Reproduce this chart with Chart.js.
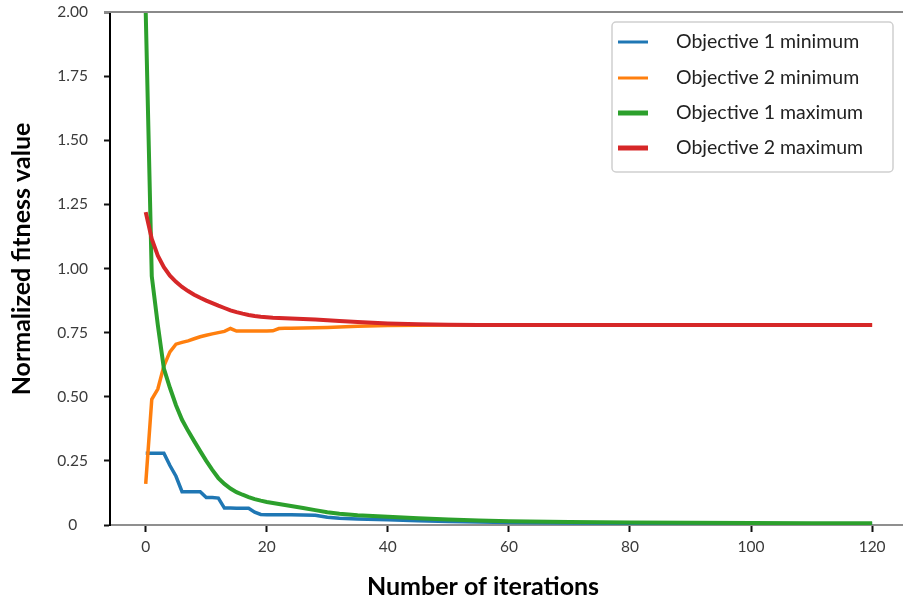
<!DOCTYPE html>
<html>
<head>
<meta charset="utf-8">
<script src="https://cdn.jsdelivr.net/npm/chart.js@4.4.0/dist/chart.umd.min.js"></script>
<style>
html,body{margin:0;padding:0;background:#fff;}
#wrap{width:903px;height:602px;position:relative;}
</style>
</head>
<body>
<div id="wrap"><canvas id="c" width="903" height="602"></canvas></div>
<script>
// ---- data ----
const iterations = [0,1,2,3,4,5,6,7,8,9,10,11,12,13,14,15,16,17,18,19,20,21,22,23,24,26,28,30,32,35,40,45,50,55,60,70,80,90,100,110,120];

const obj1Min = [0.28,0.28,0.28,0.28,0.232,0.19,0.13,0.13,0.13,0.13,0.107,0.107,0.105,0.066,0.066,0.065,0.065,0.065,0.05,0.041,0.04,0.04,0.04,0.04,0.04,0.039,0.038,0.03,0.026,0.023,0.02,0.017,0.014,0.012,0.01,0.008,0.007,0.006,0.005,0.005,0.005];

const obj2Min = [0.16,0.49,0.53,0.62,0.675,0.705,0.712,0.718,0.726,0.734,0.74,0.745,0.75,0.755,0.766,0.756,0.756,0.756,0.756,0.756,0.756,0.757,0.766,0.767,0.767,0.768,0.769,0.77,0.772,0.775,0.778,0.779,0.78,0.78,0.78,0.78,0.78,0.78,0.78,0.78,0.78];

const obj1Max = [2.0,0.97,0.78,0.61,0.535,0.467,0.41,0.367,0.327,0.288,0.25,0.215,0.183,0.16,0.142,0.128,0.118,0.109,0.101,0.095,0.09,0.086,0.082,0.078,0.074,0.066,0.058,0.05,0.044,0.038,0.032,0.026,0.021,0.018,0.015,0.012,0.01,0.009,0.008,0.007,0.007];

const obj2Max = [1.22,1.115,1.05,1.005,0.972,0.948,0.928,0.912,0.898,0.886,0.875,0.865,0.855,0.846,0.837,0.83,0.824,0.819,0.815,0.812,0.81,0.808,0.807,0.806,0.805,0.803,0.801,0.798,0.795,0.791,0.786,0.783,0.781,0.78,0.78,0.78,0.78,0.78,0.78,0.78,0.78];

const seriesLabels = ['Objective 1 minimum','Objective 2 minimum','Objective 1 maximum','Objective 2 maximum'];
const xTickValues = [0,20,40,60,80,100,120];
const xTickLabels = ['0','20','40','60','80','100','120'];
const yTickValues = [0,0.25,0.5,0.75,1,1.25,1.5,1.75,2];
const yTickLabels = ['0','0.25','0.50','0.75','1.00','1.25','1.50','1.75','2.00'];
const xTitle = 'Number of iterations';
const yTitle = 'Normalized fitness value';

// ---- styling ----
const colors = ['#1f77b4','#ff7f0e','#2ca02c','#d62728'];
const widths = [3.5,3.5,4,4];
const FONT = 'Lato, "Open Sans", sans-serif';

function pts(vals){ return iterations.map((x,i)=>({x:x,y:vals[i]})); }
const values = [obj1Min, obj2Min, obj1Max, obj2Max];

const datasets = values.map((v,k)=>({
  label: seriesLabels[k],
  data: pts(v),
  borderColor: colors[k],
  backgroundColor: colors[k],
  borderWidth: widths[k],
  pointRadius: 0,
  tension: 0,
  fill: false,
  order: 4-k
}));

const overlay = {
  id: 'overlay',
  afterDraw(chart){
    const ctx = chart.ctx, a = chart.chartArea;
    ctx.save();
    // top frame line
    ctx.strokeStyle = '#8a8a8a';
    ctx.lineWidth = 2;
    ctx.beginPath();
    ctx.moveTo(a.left - 6, a.top);
    ctx.lineTo(chart.width, a.top);
    ctx.stroke();
    // axis titles
    ctx.fillStyle = '#000';
    ctx.font = 'bold 25px ' + FONT;
    ctx.textAlign = 'center';
    ctx.textBaseline = 'middle';
    ctx.fillText(xTitle, 483, 587);
    ctx.save();
    ctx.translate(22, 259);
    ctx.rotate(-Math.PI/2);
    ctx.fillText(yTitle, 0, 0);
    ctx.restore();
    // legend box
    const bx = 612, by = 22, bw = 281, bh = 150;
    ctx.beginPath();
    ctx.roundRect(bx, by, bw, bh, 4);
    ctx.fillStyle = '#fff';
    ctx.fill();
    ctx.strokeStyle = '#cfcfcf';
    ctx.lineWidth = 1.5;
    ctx.stroke();
    const rows = [42, 78, 113, 148];
    chart.data.datasets.forEach((ds,i)=>{
      const y = rows[i];
      ctx.strokeStyle = ds.borderColor;
      ctx.lineWidth = i < 2 ? 3 : 5;
      ctx.beginPath();
      ctx.moveTo(618, y);
      ctx.lineTo(648, y);
      ctx.stroke();
      ctx.fillStyle = '#222';
      ctx.font = '19.5px ' + FONT;
      ctx.textAlign = 'left';
      ctx.textBaseline = 'middle';
      ctx.fillText(ds.label, 676, y);
    });
    ctx.restore();
  }
};

new Chart(document.getElementById('c'), {
  type: 'line',
  data: { datasets: datasets },
  options: {
    responsive: false,
    animation: false,
    layout: { padding: { top: 12, left: 0, right: 0, bottom: 0 } },
    plugins: { legend: { display: false }, tooltip: { enabled: false } },
    scales: {
      x: {
        type: 'linear',
        min: -5.9,
        max: 125.1,
        afterFit(s){ s.height = 77; s.paddingLeft = 0; s.paddingRight = 0; },
        border: { display: true, color: '#8f8f8f', width: 2 },
        grid: { display: true, drawOnChartArea: false, drawTicks: true, tickLength: 7, tickWidth: 2, tickColor: '#111' },
        ticks: {
          stepSize: 20, includeBounds: false, autoSkip: false, maxRotation: 0, padding: 6,
          color: '#3a3a3a', font: { family: FONT, size: 15.5 },
          callback: (v)=>{ const i = xTickValues.indexOf(v); return i < 0 ? '' : xTickLabels[i]; }
        }
      },
      y: {
        type: 'linear',
        min: 0,
        max: 2,
        afterFit(s){ s.width = 110; s.paddingTop = 0; s.paddingBottom = 0; },
        border: { display: true, color: '#000', width: 2 },
        grid: { display: true, drawOnChartArea: false, drawTicks: true, tickLength: 6, tickWidth: 2, tickColor: '#111' },
        ticks: {
          stepSize: 0.25, crossAlign: 'center', padding: 16,
          color: '#3a3a3a', font: { family: FONT, size: 15.5 },
          callback: (v)=>{ const i = yTickValues.indexOf(v); return i < 0 ? '' : yTickLabels[i]; }
        }
      }
    }
  },
  plugins: [overlay]
});
</script>
</body>
</html>
